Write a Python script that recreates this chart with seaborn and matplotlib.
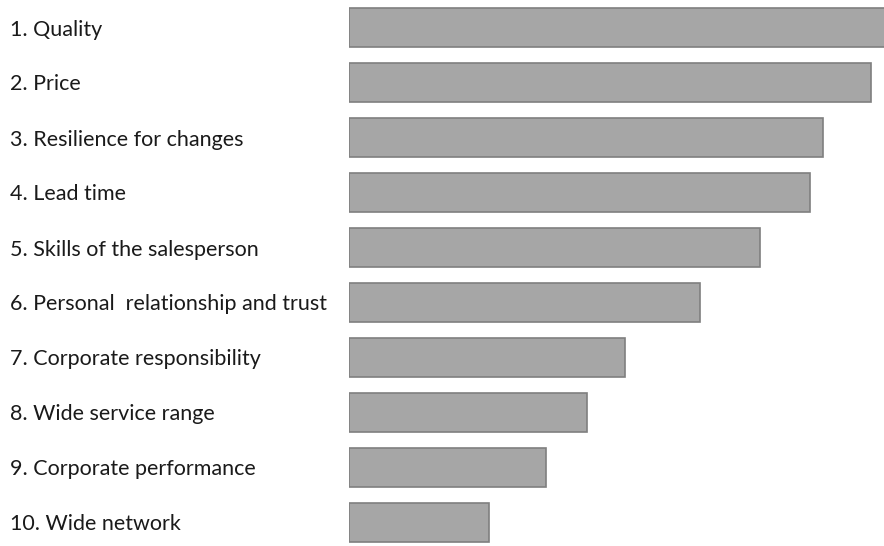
import pandas as pd
import seaborn as sns
import matplotlib.pyplot as plt

# Ranked purchasing criteria (relative score, top item = 100)
labels = ['1. Quality', '2. Price', '3. Resilience for changes', '4. Lead time',
          '5. Skills of the salesperson', '6. Personal  relationship and trust',
          '7. Corporate responsibility', '8. Wide service range',
          '9. Corporate performance', '10. Wide network']
scores = [100, 96.7, 87.8, 85.4, 76.1, 65.0, 51.1, 44.1, 36.5, 25.9]

df = pd.DataFrame({'criterion': labels, 'score': scores})

sns.set_style('white')
plt.rcParams['font.family'] = ['Lato', 'DejaVu Sans']

fig = plt.figure(figsize=(8.84, 5.46), dpi=100)
ax = fig.add_axes([349 / 884, 0, 1 - 349 / 884, 1])

sns.barplot(data=df, x='score', y='criterion', orient='h',
            color='#a6a6a6', saturation=1, width=0.72,
            edgecolor='#7f7f7f', linewidth=1.2, ax=ax)

ax.set_xlim(0, 535 / 5.4)
ax.set_ylim((546 - 27.5) / 55, -0.5)
ax.set_xlabel('')
ax.set_ylabel('')
ax.set_xticks([])
sns.despine(ax=ax, left=True, bottom=True)

# left-aligned category labels near the figure edge
ax.tick_params(axis='y', length=0, pad=339 * 72 / 100, labelsize=15.5, labelcolor='#1a1a1a')
for t in ax.get_yticklabels():
    t.set_horizontalalignment('left')
    t.set_verticalalignment('center_baseline')

fig.savefig('out.png', dpi=100)
